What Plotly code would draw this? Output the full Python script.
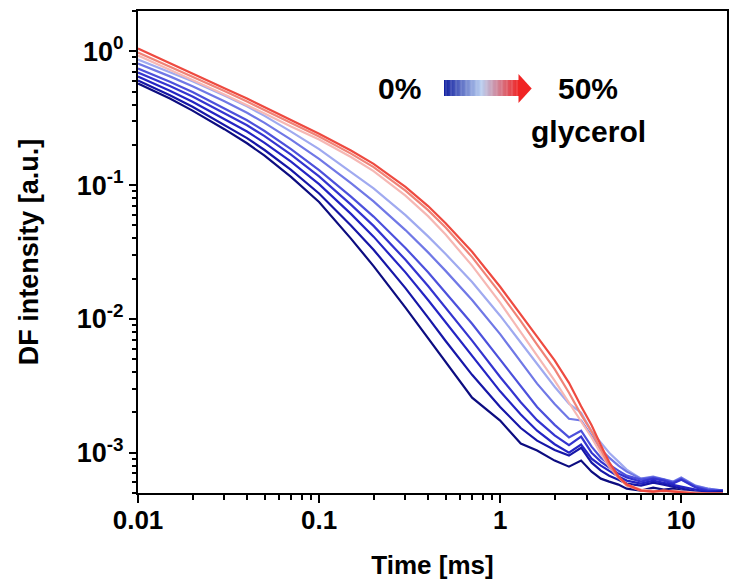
import plotly.graph_objects as go

# ---- data ----
time_ms = [0.01, 0.015, 0.02, 0.03, 0.04, 0.05, 0.07, 0.1, 0.15, 0.2, 0.3, 0.4, 0.5, 0.7, 1.0, 1.3, 1.6,
           2.0, 2.4, 2.8, 3.2, 3.6, 4.0, 4.5, 5.0, 6.0, 7.0, 8.0, 9.0, 10.0, 12.0, 14.0, 17.0]

df_0 = [0.574, 0.4431, 0.3604, 0.2617, 0.2053, 0.1659, 0.1153, 0.07475, 0.03982, 0.02482, 0.01215, 0.00717,
        0.00471, 0.00258, 0.00174, 0.00117, 0.00104, 0.000873, 0.000787, 0.000873, 0.000722, 0.00064,
        0.000608, 0.000578, 0.000539, 0.000521, 0.000549, 0.00053, 0.000539, 0.000521, 0.000503, 0.000495,
        0.000503]
df_1 = [0.604, 0.4691, 0.3848, 0.2827, 0.2245, 0.1829, 0.1297, 0.0865, 0.04989, 0.0329, 0.01699, 0.01023,
        0.00684, 0.00382, 0.002196, 0.00153, 0.00123, 0.001047, 0.000951, 0.00109, 0.000843, 0.000735,
        0.000674, 0.000629, 0.000588, 0.000568, 0.000598, 0.000578, 0.000558, 0.000539, 0.000512, 0.000503,
        0.000512]
df_2 = [0.647, 0.5076, 0.42, 0.3135, 0.2515, 0.2071, 0.1496, 0.1017, 0.0609, 0.0412, 0.02227, 0.01385,
        0.0094, 0.00526, 0.002876, 0.001933, 0.00146, 0.001157, 0.001, 0.00115, 0.000903, 0.000801,
        0.000735, 0.000663, 0.000619, 0.000588, 0.000619, 0.000598, 0.000578, 0.000558, 0.00053, 0.000512,
        0.000521]
df_3 = [0.693, 0.5504, 0.4586, 0.3464, 0.2803, 0.232, 0.169, 0.1161, 0.0715, 0.04955, 0.02765, 0.01761,
        0.01215, 0.00688, 0.00368, 0.002384, 0.001752, 0.001346, 0.001138, 0.00132, 0.001, 0.000858,
        0.000774, 0.000698, 0.000652, 0.000608, 0.00064, 0.000619, 0.000588, 0.000629, 0.000549, 0.000521,
        0.000512]
df_4 = [0.742, 0.5927, 0.4955, 0.3762, 0.3055, 0.2536, 0.1858, 0.1294, 0.0819, 0.0582, 0.0339, 0.0223,
        0.01575, 0.0092, 0.00496, 0.003126, 0.0022, 0.001616, 0.001302, 0.00146, 0.00111, 0.000919,
        0.000815, 0.000735, 0.000674, 0.000629, 0.000652, 0.000629, 0.000598, 0.00064, 0.000558, 0.00053,
        0.000521]
df_5 = [0.809, 0.6494, 0.5475, 0.4229, 0.347, 0.2916, 0.2188, 0.157, 0.1033, 0.0756, 0.0461, 0.03141,
        0.02285, 0.01385, 0.00769, 0.0048, 0.003285, 0.002312, 0.001795, 0.00174, 0.00132, 0.001055,
        0.000919, 0.000801, 0.000722, 0.00064, 0.000663, 0.000629, 0.000608, 0.000652, 0.000568, 0.000539,
        0.000521]
df_6 = [0.867, 0.7029, 0.5978, 0.4667, 0.3875, 0.3291, 0.2512, 0.1855, 0.1262, 0.0946, 0.0596, 0.04136,
        0.03055, 0.01884, 0.01057, 0.00665, 0.00455, 0.00311, 0.002328, 0.00199, 0.00144, 0.00119, 0.001,
        0.000858, 0.000748, 0.00064, 0.000652, 0.000629, 0.000608, 0.000629, 0.000558, 0.000539, 0.000521]
df_7 = [0.929, 0.730, 0.6093, 0.4747, 0.3962, 0.3424, 0.2737, 0.2188, 0.162, 0.1273, 0.0835, 0.0586,
        0.04266, 0.025, 0.01323, 0.00804, 0.00532, 0.00346, 0.00237, 0.00174, 0.0013, 0.000985, 0.000787,
        0.000652, 0.000578, 0.00053, 0.000521, 0.000512, 0.000521, 0.000512, 0.000503, 0.000495, 0.000495]
df_8 = [0.978, 0.769, 0.647, 0.5041, 0.4207, 0.3635, 0.2906, 0.2304, 0.1719, 0.1363, 0.091, 0.065, 0.04813,
        0.02896, 0.01559, 0.00963, 0.00643, 0.00421, 0.00281, 0.001927, 0.001438, 0.00104, 0.000801,
        0.000652, 0.000568, 0.000521, 0.000512, 0.000521, 0.000512, 0.000503, 0.000495, 0.000495, 0.000495]
df_9 = [1.047, 0.8176, 0.6823, 0.5299, 0.4431, 0.3835, 0.3066, 0.2422, 0.1811, 0.1442, 0.0971, 0.0697,
        0.0519, 0.03173, 0.01738, 0.01086, 0.00737, 0.0049, 0.00333, 0.002226, 0.001605, 0.001138, 0.000852,
        0.000665, 0.00058, 0.000521, 0.000512, 0.000521, 0.000512, 0.000503, 0.000495, 0.000495, 0.000495]

series = [df_0, df_1, df_2, df_3, df_4, df_5, df_6, df_7, df_8, df_9]
colors = ["#0c0c80", "#1616a8", "#2424c4", "#3434d0", "#4c50dc", "#7078e6", "#a0aaf0",
          "#f6b8b4", "#f08478", "#ee4a40"]

x_ticks = [0.01, 0.1, 1, 10]
x_ticktext = ["0.01", "0.1", "1", "10"]
y_ticks = [1e-3, 1e-2, 1e-1, 1]
y_ticktext = ["10<sup>-3</sup>", "10<sup>-2</sup>", "10<sup>-1</sup>", "10<sup>0</sup>"]

FONT = "Liberation Sans"

fig = go.Figure()
order = [6, 5, 4, 3, 2, 1, 0, 7, 8, 9]
for i in order:
    fig.add_trace(go.Scatter(x=time_ms, y=series[i], mode="lines",
                             line=dict(color=colors[i], width=2.2), showlegend=False))

x_minor = [m * 10 ** e for e in (-2, -1, 0, 1) for m in range(2, 10) if m * 10 ** e <= 17.9]
y_minor = [m * 10 ** e for e in (-4, -3, -2, -1, 0) for m in range(2, 10)
           if 5e-4 <= m * 10 ** e <= 2]

fig.update_xaxes(type="log", range=[-2, 1.2529], tickvals=x_ticks, ticktext=x_ticktext,
                 ticks="outside", ticklen=8, tickwidth=2, tickcolor="black", ticklabelstandoff=-5,
                 minor=dict(tickvals=x_minor, ticks="outside", ticklen=5, tickwidth=1.5, tickcolor="black"),
                 showline=True, linecolor="black", linewidth=2, mirror=True,
                 showgrid=False, zeroline=False,
                 tickfont=dict(family=FONT, size=26, color="black", weight="bold"),
                 title=dict(text="Time [ms]", standoff=22,
                            font=dict(family=FONT, size=26, color="black", weight="bold")))
fig.update_yaxes(type="log", range=[-3.30103, 0.30103], tickvals=y_ticks, ticktext=y_ticktext,
                 ticks="outside", ticklen=7, tickwidth=2, tickcolor="black",
                 minor=dict(tickvals=y_minor, ticks="outside", ticklen=4, tickwidth=1.5, tickcolor="black"),
                 showline=True, linecolor="black", linewidth=2, mirror=True,
                 showgrid=False, zeroline=False,
                 tickfont=dict(family=FONT, size=27, color="black", weight="bold"),
                 title=dict(text="DF intensity [a.u.]", standoff=30,
                            font=dict(family=FONT, size=27, color="black", weight="bold")))

# gradient arrow (legend of glycerol content)
def lerp(c1, c2, f):
    return tuple(round(a + (b - a) * f) for a, b in zip(c1, c2))

c_start, c_mid, c_end = (16, 30, 160), (184, 206, 240), (240, 36, 36)
bar_x0, bar_x1 = 0.5195, 0.6464
bar_y0, bar_y1 = 0.8237, 0.8568
n = 60
shapes = []
for k in range(n):
    f = (k + 0.5) / n
    c = lerp(c_start, c_mid, f / 0.5) if f < 0.5 else lerp(c_mid, c_end, (f - 0.5) / 0.5)
    xa = bar_x0 + (bar_x1 - bar_x0) * k / n
    xb = bar_x0 + (bar_x1 - bar_x0) * (k + 1) / n + 0.0005
    shapes.append(dict(type="rect", xref="paper", yref="paper", x0=xa, x1=xb, y0=bar_y0, y1=bar_y1,
                       line=dict(width=0), fillcolor="rgb(%d,%d,%d)" % c, layer="above"))
shapes.append(dict(type="path", xref="paper", yref="paper",
                   path="M 0.6460 0.8091 L 0.6684 0.8392 L 0.6460 0.8693 Z",
                   line=dict(width=0), fillcolor="rgb(240,36,36)", layer="above"))

ann_font = dict(family=FONT, size=30, color="black", weight="bold")
annotations = [
    dict(text="0%", x=0.4433, y=0.840, xref="paper", yref="paper", showarrow=False, font=ann_font,
         xanchor="center", yanchor="middle"),
    dict(text="50%", x=0.7648, y=0.840, xref="paper", yref="paper", showarrow=False, font=ann_font,
         xanchor="center", yanchor="middle"),
    dict(text="glycerol", x=0.7648, y=0.751, xref="paper", yref="paper", showarrow=False, font=ann_font,
         xanchor="center", yanchor="middle"),
]

fig.update_layout(width=730, height=581, margin=dict(l=138, r=1, t=11, b=88),
                  paper_bgcolor="white", plot_bgcolor="white",
                  shapes=shapes, annotations=annotations, showlegend=False)

fig.write_html("out.html")
